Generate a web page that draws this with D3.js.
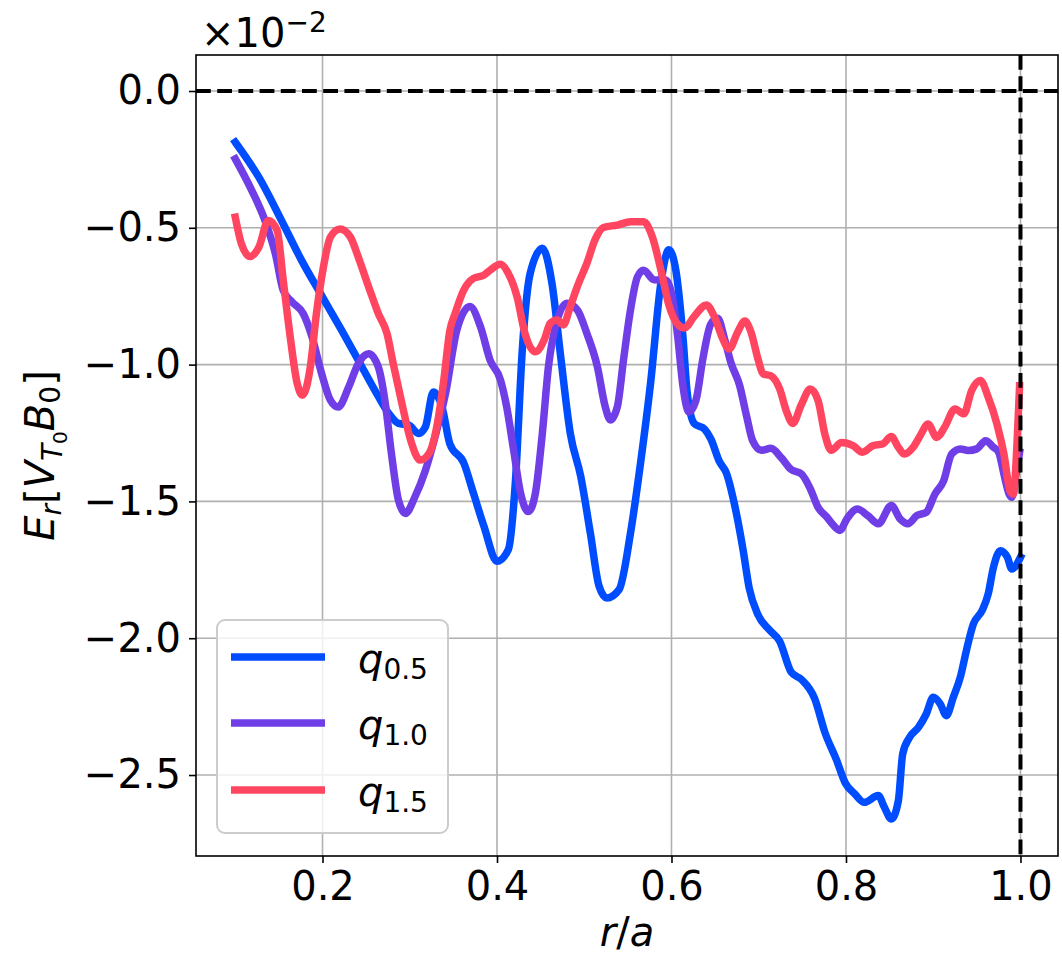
<!DOCTYPE html>
<html>
<head>
<meta charset="utf-8">
<script src="https://cdn.jsdelivr.net/npm/d3@7/dist/d3.min.js"></script>
<style>
  html, body { margin: 0; padding: 0; background: #fff; }
  svg { display: block; font-family: "DejaVu Sans", sans-serif; }
</style>
</head>
<body>
<svg id="chart" width="1062" height="959"></svg>
<script>
// ---------------- data ----------------
const xTicks = [0.2, 0.4, 0.6, 0.8, 1.0];
const yTicks = [0.0, -0.5, -1.0, -1.5, -2.0, -2.5];
const seriesNames = ["0.5", "1.0", "1.5"];
const seriesColors = ["#004cff", "#6f3ee6", "#ff455f"];

const q05_r = [0.10,0.127,0.153,0.176,0.20,0.222,0.241,0.260,0.276,0.287,0.299,0.310,0.318,0.327,0.337,0.346,0.362,0.373,0.385,0.40,0.413,0.421,0.429,0.438,0.452,0.463,0.473,0.484,0.496,0.507,0.517,0.526,0.540,0.553,0.564,0.576,0.588,0.597,0.605,0.613,0.618,0.626,0.638,0.645,0.655,0.663,0.672,0.682,0.689,0.699,0.712,0.724,0.737,0.749,0.764,0.776,0.789,0.799,0.810,0.821,0.837,0.844,0.852,0.860,0.865,0.873,0.883,0.892,0.900,0.908,0.915,0.923,0.931,0.938,0.946,0.956,0.963,0.969,0.977,0.985,0.990,1.0];
const q05_E = [-0.187,-0.315,-0.473,-0.619,-0.753,-0.875,-0.984,-1.094,-1.179,-1.215,-1.221,-1.252,-1.227,-1.10,-1.155,-1.29,-1.36,-1.47,-1.591,-1.719,-1.676,-1.433,-0.946,-0.667,-0.575,-0.703,-0.971,-1.251,-1.409,-1.616,-1.81,-1.853,-1.822,-1.616,-1.372,-1.068,-0.698,-0.580,-0.656,-0.894,-1.103,-1.215,-1.236,-1.271,-1.355,-1.397,-1.508,-1.676,-1.816,-1.913,-1.969,-2.011,-2.123,-2.151,-2.22,-2.346,-2.444,-2.528,-2.569,-2.60,-2.575,-2.618,-2.661,-2.594,-2.423,-2.362,-2.326,-2.277,-2.216,-2.24,-2.283,-2.216,-2.143,-2.045,-1.948,-1.899,-1.838,-1.741,-1.68,-1.704,-1.747,-1.704];

const q10_r = [0.10,0.119,0.134,0.146,0.155,0.165,0.178,0.188,0.199,0.209,0.218,0.230,0.241,0.253,0.264,0.272,0.279,0.287,0.295,0.306,0.318,0.329,0.341,0.354,0.369,0.381,0.392,0.404,0.411,0.419,0.427,0.436,0.444,0.452,0.459,0.467,0.480,0.492,0.503,0.515,0.524,0.530,0.538,0.545,0.553,0.561,0.568,0.580,0.593,0.601,0.607,0.613,0.620,0.628,0.636,0.645,0.653,0.661,0.668,0.678,0.686,0.693,0.703,0.714,0.726,0.737,0.749,0.759,0.768,0.778,0.785,0.793,0.801,0.813,0.825,0.837,0.852,0.862,0.871,0.881,0.892,0.902,0.912,0.921,0.931,0.940,0.950,0.960,0.969,0.975,0.981,0.987,0.990,0.995,0.999];
const q10_E = [-0.248,-0.364,-0.473,-0.595,-0.729,-0.771,-0.814,-0.899,-1.033,-1.13,-1.155,-1.082,-0.996,-0.96,-1.009,-1.142,-1.325,-1.495,-1.544,-1.483,-1.386,-1.264,-1.106,-0.873,-0.788,-0.861,-0.983,-1.056,-1.153,-1.311,-1.47,-1.537,-1.47,-1.25,-1.007,-0.861,-0.776,-0.80,-0.886,-1.007,-1.153,-1.202,-1.153,-0.983,-0.80,-0.679,-0.655,-0.69,-0.691,-0.754,-0.894,-1.075,-1.173,-1.131,-0.978,-0.852,-0.831,-0.908,-0.992,-1.075,-1.187,-1.278,-1.313,-1.306,-1.341,-1.383,-1.40,-1.453,-1.522,-1.557,-1.585,-1.606,-1.564,-1.528,-1.552,-1.582,-1.515,-1.564,-1.582,-1.552,-1.54,-1.473,-1.424,-1.327,-1.308,-1.314,-1.308,-1.278,-1.302,-1.32,-1.40,-1.473,-1.485,-1.40,-1.32];

const q15_r = [0.10,0.107,0.117,0.127,0.138,0.148,0.155,0.163,0.171,0.177,0.186,0.193,0.201,0.209,0.220,0.232,0.241,0.253,0.264,0.274,0.281,0.291,0.301,0.312,0.322,0.331,0.339,0.346,0.352,0.362,0.373,0.385,0.392,0.404,0.413,0.423,0.432,0.444,0.454,0.461,0.469,0.476,0.484,0.492,0.503,0.513,0.522,0.538,0.553,0.568,0.578,0.588,0.597,0.607,0.615,0.626,0.640,0.649,0.659,0.666,0.676,0.684,0.691,0.699,0.705,0.714,0.724,0.732,0.739,0.749,0.759,0.768,0.776,0.783,0.795,0.808,0.819,0.831,0.842,0.852,0.860,0.867,0.877,0.885,0.894,0.904,0.913,0.925,0.935,0.944,0.954,0.963,0.973,0.981,0.988,0.992,0.996,0.999];
const q15_E = [-0.461,-0.558,-0.605,-0.571,-0.473,-0.51,-0.692,-0.899,-1.069,-1.112,-1.009,-0.814,-0.644,-0.534,-0.504,-0.534,-0.607,-0.717,-0.814,-0.887,-0.996,-1.142,-1.276,-1.349,-1.325,-1.227,-1.057,-0.875,-0.813,-0.727,-0.685,-0.673,-0.655,-0.633,-0.667,-0.752,-0.886,-0.953,-0.91,-0.849,-0.837,-0.855,-0.788,-0.715,-0.630,-0.539,-0.499,-0.49,-0.478,-0.478,-0.533,-0.656,-0.782,-0.852,-0.866,-0.824,-0.782,-0.824,-0.908,-0.943,-0.88,-0.841,-0.88,-0.978,-1.034,-1.041,-1.089,-1.173,-1.215,-1.145,-1.089,-1.131,-1.257,-1.313,-1.285,-1.296,-1.32,-1.296,-1.29,-1.263,-1.302,-1.327,-1.302,-1.26,-1.217,-1.266,-1.229,-1.162,-1.18,-1.095,-1.058,-1.119,-1.217,-1.327,-1.461,-1.473,-1.29,-1.077];

const seriesR = [q05_r, q10_r, q15_r];
const seriesE = [q05_E, q10_E, q15_E];

// ---------------- layout ----------------
const L = 196, R = 1058, T = 55, B = 856;
const FS = 40;
const svg = d3.select("#chart");
svg.append("rect").attr("width", 1062).attr("height", 959).attr("fill", "#fff");

const x = d3.scaleLinear().domain([0.055, 1.043]).range([L, R]);
const y = d3.scaleLinear().domain([-2.796, 0.1316]).range([B, T]);

// grid
const grid = svg.append("g").attr("stroke", "#b0b0b0").attr("stroke-width", 1.6);
grid.selectAll("line.gx").data(xTicks).join("line")
  .attr("x1", d => x(d)).attr("x2", d => x(d)).attr("y1", T).attr("y2", B);
grid.selectAll("line.gy").data(yTicks).join("line")
  .attr("y1", d => y(d)).attr("y2", d => y(d)).attr("x1", L).attr("x2", R);

// series
const line = d3.line().x(d => x(d[0])).y(d => y(d[1])).curve(d3.curveMonotoneX);
seriesR.forEach((rs, i) => {
  const pts = rs.map((r, j) => [r, seriesE[i][j]]);
  svg.append("path").datum(pts)
    .attr("d", line)
    .attr("fill", "none")
    .attr("stroke", seriesColors[i])
    .attr("stroke-width", 7.5)
    .attr("stroke-linejoin", "round")
    .attr("stroke-linecap", "square");
});

// dashed reference lines
svg.append("line").attr("x1", L).attr("x2", R).attr("y1", y(0)).attr("y2", y(0))
  .attr("stroke", "#000").attr("stroke-width", 4).attr("stroke-dasharray", "14.8,6.4");
svg.append("line").attr("x1", x(1.0)).attr("x2", x(1.0)).attr("y1", T).attr("y2", B)
  .attr("stroke", "#000").attr("stroke-width", 4).attr("stroke-dasharray", "14.8,6.4");

// axes
const fmt = d3.format(".1f");
const gx = svg.append("g").attr("transform", `translate(0,${B})`)
  .call(d3.axisBottom(x).tickValues(xTicks).tickFormat(fmt).tickSize(7).tickPadding(9));
const gy = svg.append("g").attr("transform", `translate(${L},0)`)
  .call(d3.axisLeft(y).tickValues(yTicks).tickFormat(fmt).tickSize(7).tickPadding(8));
[gx, gy].forEach(g => {
  g.select(".domain").remove();
  g.selectAll(".tick line").attr("stroke", "#000").attr("stroke-width", 1.6);
  g.selectAll(".tick text").attr("font-size", FS).attr("font-family", "DejaVu Sans").attr("fill", "#000");
});

// spines
svg.append("rect").attr("x", L).attr("y", T).attr("width", R - L).attr("height", B - T)
  .attr("fill", "none").attr("stroke", "#000").attr("stroke-width", 1.6);

// offset text
const off = svg.append("text").attr("x", 201).attr("y", 47).attr("font-size", FS).attr("fill", "#000");
off.append("tspan").text("×10");
off.append("tspan").attr("font-size", 28).attr("dy", -15).text("−2");

// x label
const xl = svg.append("text").attr("x", (L + R) / 2).attr("y", 946)
  .attr("text-anchor", "middle").attr("font-size", FS).attr("fill", "#000");
xl.append("tspan").attr("font-style", "italic").text("r");
xl.append("tspan").text("/");
xl.append("tspan").attr("font-style", "italic").text("a");

// y label
const yl = svg.append("text").attr("transform", `translate(54,${(T + B) / 2}) rotate(-90)`)
  .attr("text-anchor", "middle").attr("font-size", FS).attr("fill", "#000");
yl.append("tspan").attr("font-style", "italic").text("E");
yl.append("tspan").attr("font-style", "italic").attr("font-size", 28).attr("dy", 7).text("r");
yl.append("tspan").attr("dy", -7).text("[");
yl.append("tspan").attr("font-style", "italic").text("V");
yl.append("tspan").attr("font-style", "italic").attr("font-size", 28).attr("dy", 8).text("T");
yl.append("tspan").attr("font-size", 20).attr("dy", 5).text("0");
yl.append("tspan").attr("font-style", "italic").attr("dy", -13).text("B");
yl.append("tspan").attr("font-size", 28).attr("dy", 6).text("0");
yl.append("tspan").attr("dy", -6).text("]");

// legend
const lg = svg.append("g");
lg.append("rect").attr("x", 217).attr("y", 620).attr("width", 231).attr("height", 213)
  .attr("rx", 8).attr("fill", "#fff").attr("fill-opacity", 0.8)
  .attr("stroke", "#cccccc").attr("stroke-width", 2);
const legY = [657, 723, 790];
seriesNames.forEach((n, i) => {
  lg.append("line").attr("x1", 231).attr("x2", 325).attr("y1", legY[i]).attr("y2", legY[i])
    .attr("stroke", seriesColors[i]).attr("stroke-width", 7.5);
  const t = lg.append("text").attr("x", 358).attr("y", legY[i] + 16).attr("font-size", FS).attr("fill", "#000");
  t.append("tspan").attr("font-style", "italic").text("q");
  t.append("tspan").attr("font-size", 28).attr("dy", 6).text(n);
});
</script>
</body>
</html>
